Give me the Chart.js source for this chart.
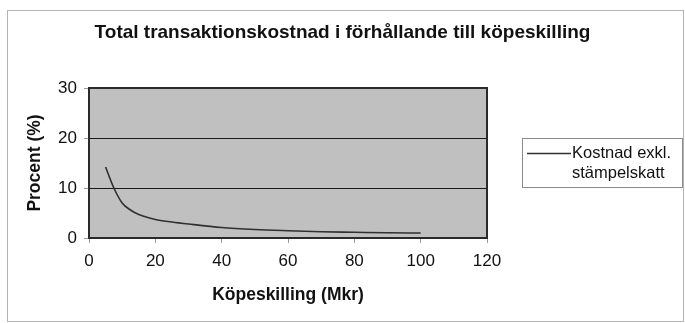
<!DOCTYPE html>
<html>
<head>
<meta charset="utf-8">
<script src="https://cdn.jsdelivr.net/npm/chart.js@4.4.1/dist/chart.umd.min.js"></script>
<style>
  html, body { margin: 0; padding: 0; background: #ffffff; }
  #wrap { width: 685px; height: 323px; }
</style>
</head>
<body>
<div id="wrap"><canvas id="c" width="685" height="323"></canvas></div>
<script>
// Purchase price (Mkr) and total transaction cost as a share of it (%)
const purchasePrice = [5, 7.5, 10, 12.5, 15, 20, 25, 30, 40, 50, 60, 70, 80, 90, 100];
const costPercent   = [14.2, 10.0, 7.0, 5.6, 4.7, 3.7, 3.2, 2.8, 2.1, 1.7, 1.45, 1.25, 1.15, 1.05, 1.0];
const seriesLabel   = ['Kostnad exkl.', 'stämpelskatt'];
const xTicks = [0, 20, 40, 60, 80, 100, 120];
const yTicks = [0, 10, 20, 30];

const FONT = "'Liberation Sans', Arial, sans-serif";

// Gray plot background plus a dark frame around the plot area
const plotFrame = {
  id: 'plotFrame',
  beforeDraw(chart) {
    const { ctx, chartArea: a } = chart;
    ctx.save();
    ctx.fillStyle = '#c0c0c0';
    ctx.fillRect(a.left, a.top, a.right - a.left, a.bottom - a.top);
    ctx.restore();
  },
  beforeDatasetsDraw(chart) {
    const { ctx, chartArea: a } = chart;
    ctx.save();
    ctx.strokeStyle = '#2a2a2a';
    ctx.lineWidth = 2;
    ctx.strokeRect(a.left, a.top, a.right - a.left, a.bottom - a.top);
    ctx.restore();
  },
  afterDraw(chart) {
    // outer chart border
    const { ctx } = chart;
    ctx.save();
    ctx.strokeStyle = '#b4b4b4';
    ctx.lineWidth = 1;
    ctx.strokeRect(7.5, 10.5, 676, 311);
    ctx.restore();
  }
};

// Boxed legend on the right with a line sample and two-line label
const boxLegend = {
  id: 'boxLegend',
  afterDraw(chart) {
    const { ctx } = chart;
    const ds = chart.data.datasets[0];
    const lines = ds.legendLines;
    ctx.save();
    ctx.strokeStyle = '#8a8a8a';
    ctx.lineWidth = 1;
    ctx.strokeRect(522.5, 138.5, 160, 49);
    ctx.strokeStyle = ds.borderColor;
    ctx.lineWidth = ds.borderWidth;
    ctx.beginPath();
    ctx.moveTo(527, 153.5);
    ctx.lineTo(571, 153.5);
    ctx.stroke();
    ctx.fillStyle = '#111';
    ctx.font = '16.5px ' + FONT;
    ctx.textBaseline = 'middle';
    ctx.textAlign = 'left';
    lines.forEach((t, i) => ctx.fillText(t, 572, 153 + i * 20));
    ctx.restore();
  }
};

new Chart(document.getElementById('c'), {
  type: 'line',
  data: {
    datasets: [{
      label: seriesLabel.join(' '),
      legendLines: seriesLabel,
      data: purchasePrice.map((x, i) => ({ x, y: costPercent[i] })),
      borderColor: '#303030',
      borderWidth: 1.6,
      pointRadius: 0,
      fill: false,
      cubicInterpolationMode: 'monotone'
    }]
  },
  options: {
    responsive: false,
    animation: false,
    layout: { padding: 0 },
    plugins: {
      legend: { display: false },
      tooltip: { enabled: false },
      title: {
        display: true,
        text: 'Total transaktionskostnad i förhållande till köpeskilling',
        color: '#111',
        font: { family: FONT, size: 19, weight: 'bold', lineHeight: 1.2 },
        padding: { top: 21.6, bottom: 43.6 }
      }
    },
    scales: {
      x: {
        type: 'linear',
        min: 0, max: 120,
        afterFit: s => { s.height = 85; },
        afterBuildTicks: s => { s.ticks = xTicks.map(v => ({ value: v })); },
        ticks: { color: '#111', font: { family: FONT, size: 17 }, padding: 8, maxRotation: 0 },
        grid: { drawOnChartArea: false, drawTicks: true, tickLength: 5, color: '#9a9a9a' },
        border: { display: false },
        title: {
          display: true,
          text: 'Köpeskilling (Mkr)',
          color: '#111',
          font: { family: FONT, size: 17.5, weight: 'bold', lineHeight: 1.2 },
          padding: { top: 0, bottom: 17.5 }
        }
      },
      y: {
        min: 0, max: 30,
        afterFit: s => { s.width = 89; },
        afterBuildTicks: s => { s.ticks = yTicks.map(v => ({ value: v })); },
        ticks: { color: '#111', font: { family: FONT, size: 17 }, padding: 7 },
        grid: { drawOnChartArea: true, drawTicks: true, tickLength: 5, color: '#1a1a1a', tickColor: '#9a9a9a', lineWidth: 1 },
        border: { display: false },
        title: {
          display: true,
          text: 'Procent (%)',
          color: '#111',
          font: { family: FONT, size: 17.5, weight: 'bold', lineHeight: 1.2 },
          padding: { top: 24.5, bottom: 0 }
        }
      },
      legendSpace: {
        position: 'right',
        display: true,
        afterFit: s => { s.width = 198; },
        ticks: { display: false },
        grid: { display: false },
        border: { display: false }
      }
    }
  },
  plugins: [plotFrame, boxLegend]
});
</script>
</body>
</html>
